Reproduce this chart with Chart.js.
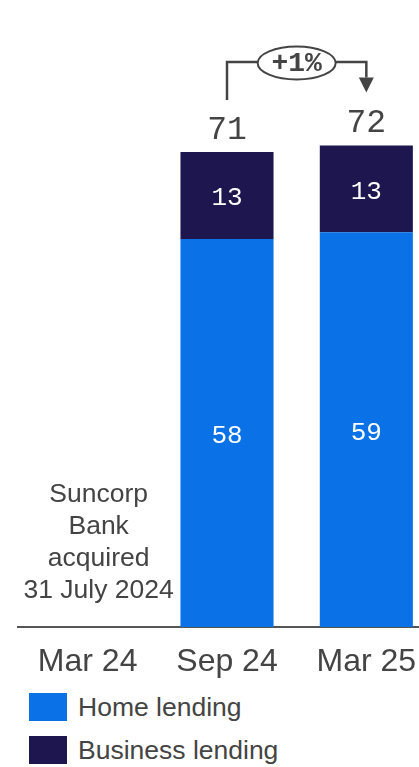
<!DOCTYPE html>
<html lang="en">
<head>
    <meta charset="UTF-8">
    <title>Lending balances</title>
    <script src="https://cdn.jsdelivr.net/npm/chart.js"></script>
    <style>
        html, body {
            margin: 0;
            padding: 0;
            background: #fff;
            overflow: hidden;
            width: 419px;
            height: 767px;
        }

        .chart-box {
            position: absolute;
            left: 0;
            top: 0;
            width: 437px;
            height: 687px;
        }

        .legend {
            position: absolute;
            left: 29px;
            top: 693px;
            font-family: 'Liberation Sans', Arial, sans-serif;
            font-size: 26.5px;
            color: #444;
        }

        .legend-item {
            display: flex;
            align-items: center;
            height: 28px;
            margin-bottom: 15px;
        }

        .swatch {
            width: 38px;
            height: 28px;
            margin-right: 11px;
        }
    </style>
</head>
<body>
    <div class="chart-box">
        <canvas id="lendingChart"></canvas>
    </div>

    <div class="legend">
        <div class="legend-item"><span class="swatch" style="background:#0A72E6"></span>Home lending</div>
        <div class="legend-item"><span class="swatch" style="background:#1D164F"></span>Business lending</div>
    </div>

    <script>
        const periods = ['Mar 24', 'Sep 24', 'Mar 25'];
        const homeLending = [null, 58, 59];
        const businessLending = [null, 13, 13];
        const totals = [null, 71, 72];
        const growthLabel = '+1%';
        const noteLines = ['Suncorp', 'Bank', 'acquired', '31 July 2024'];

        const monoFont = "'Liberation Mono', monospace";
        const sansFont = "'Liberation Sans', Arial, sans-serif";

        // numbers inside the bars and totals above them
        const labelPlugin = {
            id: 'labels',
            afterDatasetsDraw(chart) {
                const ctx = chart.ctx;
                const x = chart.scales.x;
                const y = chart.scales.y;
                ctx.save();
                ctx.textAlign = 'center';

                chart.data.datasets.forEach((ds, di) => {
                    const meta = chart.getDatasetMeta(di);
                    meta.data.forEach((bar, i) => {
                        if (ds.data[i] == null) return;
                        ctx.fillStyle = '#fff';
                        ctx.font = '26px ' + monoFont;
                        ctx.textBaseline = 'middle';
                        ctx.fillText(ds.data[i], bar.x, (bar.y + bar.base) / 2 + 3);
                    });
                });

                ctx.fillStyle = '#444';
                ctx.font = '33px ' + monoFont;
                ctx.textBaseline = 'alphabetic';
                totals.forEach((t, i) => {
                    if (t == null) return;
                    ctx.fillText(t, x.getPixelForValue(i), y.getPixelForValue(t) - 13);
                });

                // note under Mar 24
                ctx.font = '26.5px ' + sansFont;
                const nx = x.getPixelForValue(0) + 11;
                noteLines.forEach((line, k) => {
                    ctx.fillText(line, nx, 502 + k * 32);
                });

                // growth bracket from Sep 24 to Mar 25
                const x1 = x.getPixelForValue(1);
                const x2 = x.getPixelForValue(2);
                const yTop1 = y.getPixelForValue(totals[1]);
                const yTop2 = y.getPixelForValue(totals[2]);
                const yh = 62;
                const cx = (x1 + x2) / 2;
                const rx = 39, ry = 16.5;

                ctx.strokeStyle = '#444';
                ctx.lineWidth = 2.5;
                ctx.beginPath();
                ctx.moveTo(x1, yTop1 - 52);
                ctx.lineTo(x1, yh);
                ctx.lineTo(cx - rx, yh);
                ctx.moveTo(cx + rx, yh);
                ctx.lineTo(x2, yh);
                ctx.lineTo(x2, yTop2 - 68);
                ctx.stroke();

                ctx.lineWidth = 2;
                ctx.beginPath();
                ctx.ellipse(cx, yh + 1, rx, ry, 0, 0, Math.PI * 2);
                ctx.stroke();

                ctx.fillStyle = '#444';
                ctx.beginPath();
                ctx.moveTo(x2 - 7.5, yTop2 - 68);
                ctx.lineTo(x2 + 7.5, yTop2 - 68);
                ctx.lineTo(x2, yTop2 - 53);
                ctx.closePath();
                ctx.fill();

                ctx.font = 'bold 28px ' + monoFont;
                ctx.textBaseline = 'middle';
                ctx.fillText(growthLabel, cx, yh + 2);

                ctx.restore();
            }
        };

        const ctx = document.getElementById('lendingChart').getContext('2d');

        new Chart(ctx, {
            type: 'bar',
            data: {
                labels: periods,
                datasets: [
                    {
                        label: 'Home lending',
                        data: homeLending,
                        backgroundColor: '#0A72E6'
                    },
                    {
                        label: 'Business lending',
                        data: businessLending,
                        backgroundColor: '#1D164F'
                    }
                ]
            },
            options: {
                responsive: true,
                maintainAspectRatio: false,
                animation: false,
                layout: {
                    padding: { top: 25, left: 18, right: 1, bottom: 0 }
                },
                plugins: {
                    legend: { display: false },
                    tooltip: { enabled: false }
                },
                datasets: {
                    bar: {
                        categoryPercentage: 1,
                        barPercentage: 0.668
                    }
                },
                scales: {
                    x: {
                        stacked: true,
                        grid: { display: false },
                        border: { display: true, color: '#555', width: 2 },
                        ticks: {
                            color: '#444',
                            font: { family: sansFont, size: 32 },
                            padding: 8
                        },
                        afterFit(scale) {
                            scale.height = 60;
                        }
                    },
                    y: {
                        stacked: true,
                        display: false,
                        min: 0,
                        max: 90
                    }
                }
            },
            plugins: [labelPlugin]
        });
    </script>
</body>
</html>
